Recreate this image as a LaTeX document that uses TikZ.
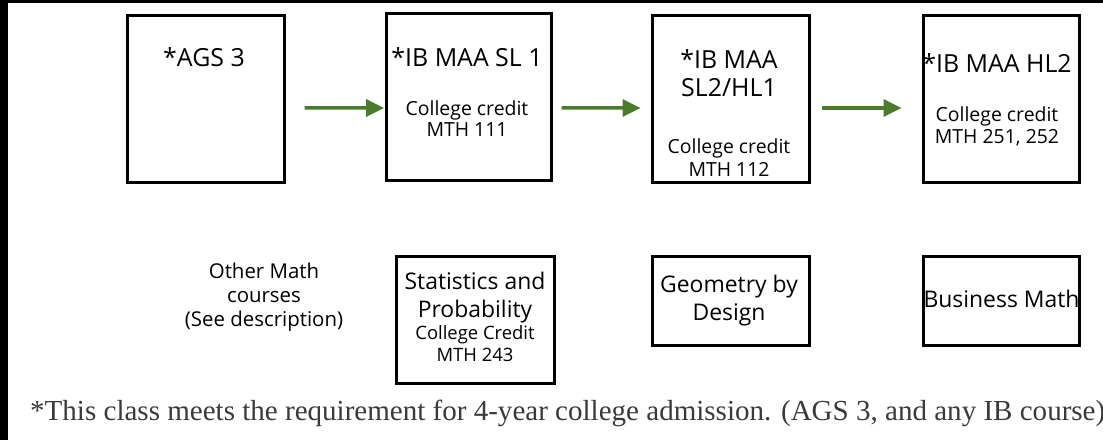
\documentclass[tikz,border=0pt]{standalone}
\usepackage{fontspec}
\setmainfont{Open Sans}
\newfontfamily\footserif{Liberation Serif}
\usetikzlibrary{arrows.meta}
\definecolor{arrowgreen}{HTML}{4A7C2C}
\definecolor{footgray}{HTML}{3A3A3A}

\begin{document}
\begin{tikzpicture}[x=1bp,y=-1bp,
    course/.style={draw=black,line width=3bp,inner sep=0pt},
    title/.style={anchor=base,font=\fontsize{25}{28}\selectfont},
    credit/.style={anchor=base,font=\fontsize{19.5}{22}\selectfont},
    other/.style={anchor=base,font=\fontsize{23}{26}\selectfont},
    plain/.style={anchor=base,font=\fontsize{20.5}{24}\selectfont},
    small/.style={anchor=base,font=\fontsize{18.5}{21}\selectfont},
    flow/.style={draw=arrowgreen,line width=3.5bp,-{Triangle[length=18bp,width=17bp]}}]
    \useasboundingbox (0,0) rectangle (1103,440);
    \fill[white] (0,0) rectangle (1103,440);
    \fill[black] (0,0) rectangle (8,440);
    \fill[black] (0,0) rectangle (1103,3);

    % IB sequence
    \node[course,minimum width=157bp,minimum height=167bp] (ags) at (206,99) {};
    \node[course,minimum width=165bp,minimum height=167bp] (sl1) at (469,97) {};
    \node[course,minimum width=157bp,minimum height=167bp] (sl2) at (731,99) {};
    \node[course,minimum width=156bp,minimum height=167bp] (hl2) at (1001.5,99) {};

    \node[title] (agsT) at (204,67) {*AGS 3};
    \node[title] (sl1T) at (467,67) {*IB MAA SL 1};
    \node[credit] (sl1C) at (467,116) {College credit};
    \node[credit] (sl1M) at (467,137) {MTH 111};
    \node[title] (sl2T) at (729,69) {*IB MAA};
    \node[title] (sl2S) at (729,97) {SL2/HL1};
    \node[credit] (sl2C) at (729,154) {College credit};
    \node[credit] (sl2M) at (729,177) {MTH 112};
    \node[title] (hl2T) at (997,73) {*IB MAA HL2};
    \node[credit] (hl2C) at (997,122) {College credit};
    \node[credit] (hl2M) at (997,144) {MTH 251, 252};

    \draw[flow,shorten <=18.5bp,shorten >=1bp] ([yshift=-9bp]ags.east) -- ([yshift=-11bp]sl1.west);
    \draw[flow,shorten <=8.5bp,shorten >=10.5bp] ([yshift=-11bp]sl1.east) -- ([yshift=-9bp]sl2.west);
    \draw[flow,shorten <=10.5bp,shorten >=20.5bp] ([yshift=-9bp]sl2.east) -- ([yshift=-9bp]hl2.west);

    % other courses
    \node[plain] (oth1) at (264,279) {Other Math};
    \node[plain] (oth2) at (264,303) {courses};
    \node[plain] (oth3) at (264,327) {(See description)};

    \node[course,minimum width=158bp,minimum height=127bp] (stat) at (475.5,320) {};
    \node[other] (stat1) at (475,290) {Statistics and};
    \node[other] (stat2) at (475,318) {Probability};
    \node[small] (stat3) at (475,340) {College Credit};
    \node[small] (stat4) at (475,362) {MTH 243};

    \node[course,minimum width=157bp,minimum height=89bp] (geo) at (731,301) {};
    \node[other] (geo1) at (729,293) {Geometry by};
    \node[other] (geo2) at (729,321) {Design};

    \node[course,minimum width=156bp,minimum height=89bp] (bus) at (1001.5,301) {};
    \node[other] (bus1) at (1001.5,308) {Business Math};

    \node[anchor=base west,inner sep=0pt,text=footgray,font=\footserif\fontsize{29.15}{32}\selectfont] (note) at (30,421)
        {*This class meets the requirement for 4-year college admission. (AGS 3, and any IB course)};
\end{tikzpicture}
\end{document}
